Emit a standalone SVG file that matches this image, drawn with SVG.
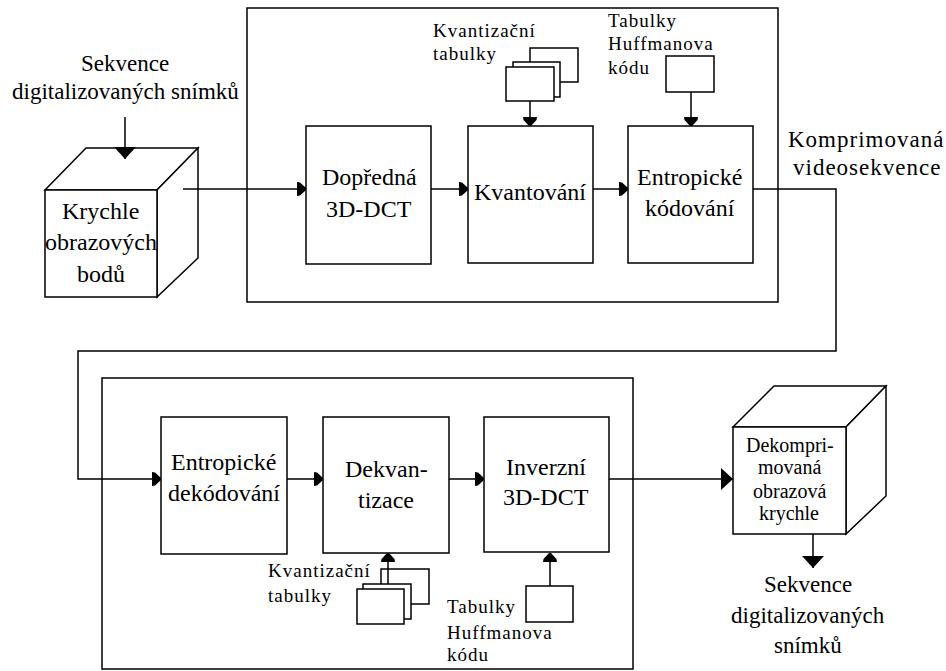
<svg xmlns="http://www.w3.org/2000/svg" width="946" height="671" viewBox="0 0 946 671">
<defs>
<style>
.b{fill:#fff;stroke:#000;stroke-width:1.5}
.n{fill:none;stroke:#000;stroke-width:1.5}
.t{font-family:'Liberation Serif',serif;font-size:24px;fill:#000}
.m{font-family:'Liberation Serif',serif;font-size:23px;fill:#000}
.s{font-family:'Liberation Serif',serif;font-size:19px;letter-spacing:1px;fill:#000}
.c{font-family:'Liberation Serif',serif;font-size:20px;fill:#000}
</style>
<marker id="sa" markerUnits="userSpaceOnUse" viewBox="0 0 9 14" markerWidth="9" markerHeight="14" refX="9" refY="7" orient="auto">
<path d="M0,0 L3,0.5 L9,6 L9,8 L3,13.5 L0,14 Z" fill="#000"/>
</marker>
<marker id="ba" markerUnits="userSpaceOnUse" viewBox="0 0 12 22" markerWidth="12" markerHeight="22" refX="12" refY="11" orient="auto">
<path d="M0,0 L12,11 L0,22 Z" fill="#000"/>
</marker>
</defs>
<rect width="946" height="671" fill="#fff"/>

<g id="encoder-frame"><rect class="n" x="247" y="8" width="531" height="294"/></g>
<g id="decoder-frame"><rect class="n" x="102" y="378" width="531" height="291"/></g>

<g id="input-label">
<text class="m" x="81" y="71">Sekvence</text>
<text class="m" x="12" y="99">digitalizovaných snímků</text>
</g>

<g id="cube-in">
<path class="b" d="M45,190 L86,148 H198 L157,190 Z"/>
<path class="b" d="M157,190 L198,148 V258 L157,297 Z"/>
<rect class="b" x="45" y="190" width="112" height="107"/>
<text class="t" x="62" y="219">Krychle</text>
<text class="t" x="45" y="250">obrazových</text>
<text class="t" x="77" y="282">bodů</text>
</g>

<g id="dct">
<rect class="b" x="306" y="126" width="125" height="138"/>
<text class="t" x="322" y="185">Dopředná</text>
<text class="t" x="326" y="217">3D-DCT</text>
</g>

<g id="kvant">
<rect class="b" x="468" y="126" width="125" height="137"/>
<text class="t" x="474" y="200">Kvantování</text>
</g>

<g id="entrop">
<rect class="b" x="628" y="126" width="125" height="137"/>
<text class="t" x="637" y="185">Entropické</text>
<text class="t" x="645" y="216">kódování</text>
</g>

<g id="qtables-top">
<rect class="b" x="530" y="48" width="48" height="34"/>
<rect class="b" x="513" y="62" width="47" height="35"/>
<rect class="b" x="506" y="67" width="48" height="34"/>
<text class="s" x="433" y="37">Kvantizační</text>
<text class="s" x="433" y="60">tabulky</text>
</g>

<g id="huff-top">
<rect class="b" x="666" y="56" width="48" height="36"/>
<text class="s" x="608" y="27">Tabulky</text>
<text class="s" x="608" y="50">Huffmanova</text>
<text class="s" x="608" y="74">kódu</text>
</g>

<g id="output-label">
<text class="m" x="788" y="147" letter-spacing="1">Komprimovaná</text>
<text class="m" x="793" y="175" letter-spacing="1">videosekvence</text>
</g>

<g id="entrop-dek">
<rect class="b" x="161" y="417" width="126" height="137"/>
<text class="t" x="171" y="470">Entropické</text>
<text class="t" x="168" y="501">dekódování</text>
</g>

<g id="dekvant">
<rect class="b" x="323" y="417" width="126" height="136"/>
<text class="t" x="345" y="477">Dekvan-</text>
<text class="t" x="358" y="508">tizace</text>
</g>

<g id="inverzni">
<rect class="b" x="484" y="417" width="125" height="135"/>
<text class="t" x="506" y="475">Inverzní</text>
<text class="t" x="503" y="505">3D-DCT</text>
</g>

<g id="qtables-bottom">
<rect class="n" x="381" y="569" width="48" height="35"/>
<rect class="b" x="363" y="584" width="48" height="35"/>
<rect class="b" x="357" y="589" width="47" height="35"/>
<text class="s" x="268" y="577">Kvantizační</text>
<text class="s" x="268" y="602">tabulky</text>
</g>

<g id="huff-bottom">
<rect class="b" x="526" y="586" width="47" height="36"/>
<text class="s" x="447" y="613">Tabulky</text>
<text class="s" x="447" y="639">Huffmanova</text>
<text class="s" x="447" y="661">kódu</text>
</g>

<g id="cube-out">
<path class="b" d="M733,427 L774,386 H886 L846,427 Z"/>
<path class="b" d="M846,427 L886,386 V496 L846,534 Z"/>
<rect class="b" x="733" y="427" width="113" height="107"/>
<text class="c" x="746" y="452">Dekompri-</text>
<text class="c" x="758" y="474">movaná</text>
<text class="c" x="753" y="498">obrazová</text>
<text class="c" x="759" y="520">krychle</text>
</g>

<g id="result-label">
<text class="m" x="764" y="592">Sekvence</text>
<text class="m" x="731" y="623">digitalizovaných</text>
<text class="m" x="774" y="653">snímků</text>
</g>

<g id="connectors">
<path class="n" d="M125,117 V159" marker-end="url(#ba)"/>
<path class="n" d="M183,189 H306" marker-end="url(#sa)"/>
<path class="n" d="M431,189 H468" marker-end="url(#sa)"/>
<path class="n" d="M593,189 H628" marker-end="url(#sa)"/>
<path class="n" d="M530,101 V126" marker-end="url(#sa)"/>
<path class="n" d="M691,92 V126" marker-end="url(#sa)"/>
<path class="n" d="M753,189 H836 V351 H78 V479 H161" marker-end="url(#sa)"/>
<path class="n" d="M287,479 H323" marker-end="url(#sa)"/>
<path class="n" d="M449,479 H484" marker-end="url(#sa)"/>
<path class="n" d="M388,584 V553" marker-end="url(#sa)"/>
<path class="n" d="M550,586 V553" marker-end="url(#sa)"/>
<path class="n" d="M609,479 H733" marker-end="url(#ba)"/>
<path class="n" d="M813,534 V568" marker-end="url(#ba)"/>
</g>
</svg>
